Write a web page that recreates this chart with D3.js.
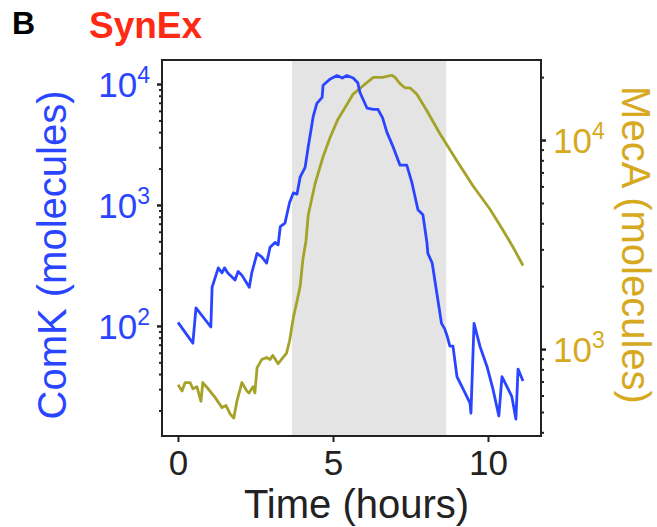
<!DOCTYPE html>
<html>
<head>
<meta charset="utf-8">
<script src="https://cdn.jsdelivr.net/npm/d3@7"></script>
<style>
  body { margin: 0; background: #fff; }
  svg text { font-family: "Liberation Sans", Arial, sans-serif; }
</style>
</head>
<body>
<div id="chart"></div>
<script>
// ── data ──────────────────────────────────────────────────────
const comkTime = [0, 0.48, 0.58, 1.06, 1.1, 1.3, 1.42, 1.5, 1.6, 1.84, 1.94, 2.06, 2.3, 2.38, 2.55, 2.7, 2.86, 2.97, 3.13, 3.23,
  3.3, 3.45, 3.6, 3.72, 3.84, 3.94, 4.1, 4.2, 4.36, 4.48, 4.65, 4.68, 4.9, 5.13, 5.3, 5.45, 5.65, 5.8, 5.87, 6.1, 6.3, 6.45,
  6.6, 6.74, 6.94, 7.16, 7.38, 7.55, 7.74, 7.9, 8.03, 8.06, 8.2, 8.35, 8.5, 8.6, 8.68, 8.77, 8.87, 9.0, 9.2, 9.42, 9.45,
  9.55, 9.74, 9.97, 10.16, 10.35, 10.45, 10.6, 10.77, 10.9, 10.97, 11.13];
const comkValue = [107, 72, 141, 98, 209, 302, 275, 302, 275, 240, 282, 263, 209, 275, 398, 372, 331, 447, 490, 468,
  661, 708, 1047, 1259, 1230, 1698, 2042, 3020, 5370, 6918, 7762, 9772, 10965, 11750, 11220, 11750, 11220, 10230, 8511, 6310, 6166, 6166,
  5250, 3981, 3020, 2138, 2138, 1514, 912, 832, 490, 398, 331, 186, 105, 95, 83, 68, 68, 38, 30, 23, 19,
  105, 68, 46, 30, 18, 38, 32, 26, 17, 44, 35];

const mecaTime = [0, 0.13, 0.23, 0.39, 0.48, 0.61, 0.74, 0.8, 0.97, 1.19, 1.42, 1.55, 1.68, 1.8, 1.9, 2.06, 2.22, 2.29, 2.42, 2.48,
  2.55, 2.7, 2.86, 2.97, 3.06, 3.23, 3.39, 3.5, 3.6, 3.72, 3.84, 3.94, 4.03, 4.13, 4.2, 4.42, 4.68, 4.9, 5.16, 5.45, 5.65,
  5.97, 6.3, 6.6, 6.9, 7.0, 7.16, 7.32, 7.48, 7.7, 8.03, 8.45, 9.0, 9.52, 10.06, 10.48, 10.8, 11.13];
const mecaValue = [676, 631, 692, 692, 646, 661, 562, 692, 646, 589, 525, 537, 490, 468, 562, 692, 631, 617, 661, 617,
  813, 891, 912, 891, 933, 851, 912, 955, 1096, 1413, 1698, 1995, 2692, 3311, 4365, 6166, 8318, 10233, 12589, 14791, 16596,
  18197, 19953, 19953, 20417, 19953, 18621, 17783, 17783, 16596, 13804, 10715, 7943, 6026, 4677, 3715, 3090, 2512];

const shadeRange = [3.68, 8.65];
const xTicks = [0, 5, 10];
const leftMajor = [100, 1000, 10000];
const rightMajor = [1000, 10000];

// ── layout ────────────────────────────────────────────────────
const W = 657, H = 527;
const plot = { left: 162, right: 541, top: 60, bottom: 436 };
const blue = "#2a45ff", olive = "#a5a22a", gold = "#d6a91f";

const svg = d3.select("#chart").append("svg")
  .attr("width", W).attr("height", H);

const x = d3.scaleLinear().domain([-0.516, 11.71]).range([plot.left, plot.right]);
const yL = d3.scaleLog().domain([12.3, 15800]).range([plot.bottom, plot.top]);
const yR = d3.scaleLog().domain([384, 24150]).range([plot.bottom, plot.top]);

function minors(scale) {
  const [a, b] = scale.domain();
  const out = [];
  for (let e = 0; e <= 5; e++)
    for (let k = 2; k <= 9; k++) {
      const v = k * Math.pow(10, e);
      if (v > a && v < b) out.push(v);
    }
  return out;
}

// shaded window
svg.append("rect")
  .attr("x", x(shadeRange[0])).attr("y", plot.top)
  .attr("width", x(shadeRange[1]) - x(shadeRange[0]))
  .attr("height", plot.bottom - plot.top)
  .attr("fill", "#e4e4e4");

// lines
const comk = comkTime.map((t, i) => ({ t, v: comkValue[i] }));
const meca = mecaTime.map((t, i) => ({ t, v: mecaValue[i] }));

svg.append("path").datum(meca)
  .attr("fill", "none").attr("stroke", olive).attr("stroke-width", 2.8)
  .attr("stroke-linejoin", "round")
  .attr("d", d3.line().x(d => x(d.t)).y(d => yR(d.v)));

svg.append("path").datum(comk)
  .attr("fill", "none").attr("stroke", blue).attr("stroke-width", 2.8)
  .attr("stroke-linejoin", "round")
  .attr("d", d3.line().x(d => x(d.t)).y(d => yL(d.v)));

// frame
svg.append("rect")
  .attr("x", plot.left).attr("y", plot.top)
  .attr("width", plot.right - plot.left).attr("height", plot.bottom - plot.top)
  .attr("fill", "none").attr("stroke", "#222").attr("stroke-width", 2);

// x axis
const gx = svg.append("g")
  .attr("transform", `translate(0,${plot.bottom})`)
  .call(d3.axisBottom(x).tickValues(xTicks).tickSize(6).tickSizeOuter(0).tickPadding(8));
gx.select(".domain").remove();
gx.selectAll(".tick line").attr("stroke", "#222").attr("stroke-width", 2);
gx.selectAll(".tick text").attr("font-size", 35).attr("fill", "#222")
  .attr("font-family", "Liberation Sans, Arial, sans-serif");

// left axis (ComK)
const gyLmin = svg.append("g").attr("transform", `translate(${plot.left},0)`)
  .call(d3.axisLeft(yL).tickValues(minors(yL)).tickSize(3).tickFormat(""));
gyLmin.select(".domain").remove();
gyLmin.selectAll(".tick line").attr("stroke", "#222").attr("stroke-width", 2);

const gyL = svg.append("g").attr("transform", `translate(${plot.left},0)`)
  .call(d3.axisLeft(yL).tickValues(leftMajor).tickSize(5).tickFormat(""));
gyL.select(".domain").remove();
gyL.selectAll(".tick line").attr("stroke", "#222").attr("stroke-width", 2.5);

// right axis (MecA)
const gyRmin = svg.append("g").attr("transform", `translate(${plot.right},0)`)
  .call(d3.axisRight(yR).tickValues(minors(yR)).tickSize(3).tickFormat(""));
gyRmin.select(".domain").remove();
gyRmin.selectAll(".tick line").attr("stroke", "#222").attr("stroke-width", 2);

const gyR = svg.append("g").attr("transform", `translate(${plot.right},0)`)
  .call(d3.axisRight(yR).tickValues(rightMajor).tickSize(5).tickFormat(""));
gyR.select(".domain").remove();
gyR.selectAll(".tick line").attr("stroke", "#222").attr("stroke-width", 2.5);

// power-of-ten labels with superscript
function powLabel(g, scale, values, xPos, anchor, color) {
  values.forEach(v => {
    const e = Math.round(Math.log10(v));
    const t = g.append("text")
      .attr("x", xPos).attr("y", scale(v) + 13)
      .attr("text-anchor", anchor)
      .attr("font-size", 35).attr("fill", color);
    t.append("tspan").text("10");
    t.append("tspan").attr("dy", -14).attr("font-size", 23).text(e);
  });
}
powLabel(svg, yL, leftMajor, 150, "end", blue);
powLabel(svg, yR, rightMajor, 553, "start", gold);

// axis titles
svg.append("text")
  .attr("x", (plot.left + plot.right) / 2 + 5).attr("y", 518)
  .attr("text-anchor", "middle").attr("font-size", 40).attr("fill", "#222")
  .text("Time (hours)");

svg.append("text")
  .attr("transform", `translate(66,255) rotate(-90)`)
  .attr("text-anchor", "middle").attr("font-size", 40).attr("fill", blue)
  .text("ComK (molecules)");

svg.append("text")
  .attr("transform", `translate(622,245) rotate(90)`)
  .attr("text-anchor", "middle").attr("font-size", 40).attr("fill", gold)
  .text("MecA (molecules)");

// panel letter + title
svg.append("text").attr("x", 12).attr("y", 34)
  .attr("font-size", 32).attr("font-weight", "bold").attr("fill", "#000").text("B");
svg.append("text").attr("x", 89).attr("y", 38)
  .attr("font-size", 37).attr("font-weight", "bold").attr("fill", "#ff2a14").text("SynEx");
</script>
</body>
</html>
